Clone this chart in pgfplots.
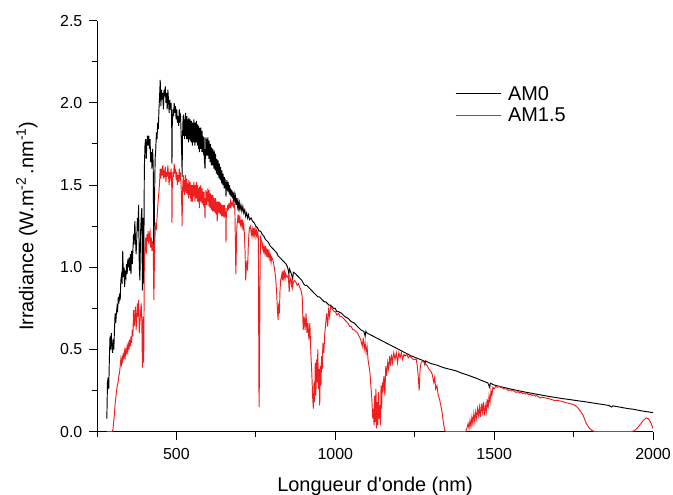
\documentclass[border=0pt]{standalone}
\usepackage{fontspec}
\setmainfont{Liberation Sans}
\usepackage{pgfplots}
\pgfplotsset{compat=1.18}
\definecolor{amred}{RGB}{240,30,30}
\newcommand{\lblfont}{\fontsize{20}{24}\selectfont}
\newcommand{\tckfont}{\fontsize{16}{19}\selectfont}

\begin{document}
\begin{tikzpicture}
\begin{axis}[
    scale only axis,
    width=556bp,
    height=411bp,
    xmin=250, xmax=2000,
    ymin=0, ymax=2.5,
    axis lines=left,
    axis line style={-, line width=1pt},
    tick align=outside,
    major tick length=8bp,
    minor tick length=5bp,
    tick style={line width=1pt, black},
    xtick={500,1000,1500,2000},
    xticklabels={500,1000,1500,2000},
    minor xtick={250,750,1250,1750},
    ytick={0,0.5,1,1.5,2,2.5},
    yticklabels={0.0,0.5,1.0,1.5,2.0,2.5},
    minor ytick={0.25,0.75,1.25,1.75,2.25},
    xticklabel style={font=\tckfont, inner sep=0pt, yshift=-8.3bp},
    yticklabel style={font=\tckfont, inner sep=0pt, xshift=-6.5bp},
    xlabel={Longueur d\textquotesingle onde (nm)},
    ylabel={Irradiance (W.m\textsuperscript{-2}\,.nm\textsuperscript{-1})},
    every axis x label/.style={at={(axis description cs:0.5,0)}, yshift=-59.3bp, anchor=base, font=\lblfont, inner sep=0pt},
    every axis y label/.style={at={(axis description cs:-0.1146,0.5)}, rotate=90, anchor=base, font=\lblfont, inner sep=0pt},
    legend style={draw=none, fill=none, font=\lblfont, at={(rel axis cs:0.644,0.846)}, anchor=north west, inner sep=0pt, row sep=2bp, column sep=5bp},
    legend cell align=left,
    legend image code/.code={\draw[#1, line width=0.8pt] (0bp,0bp) -- (45bp,0bp);},
]

\addplot[black, line width=0.95pt] coordinates {
(281,0.08)(283,0.30)(285,0.33)(287,0.26)(289,0.45)(291,0.58)(293,0.50)(295,0.60)(297,0.52)(299,0.48)
(301,0.56)(303,0.50)(305,0.62)(307,0.72)(309,0.66)(311,0.72)(313,0.76)(315,0.74)(317,0.82)(319,0.78)
(321,0.84)(323,0.80)(325,0.92)(327,0.95)(329,0.90)(331,1.10)(333,0.94)(335,1.00)(337,0.88)(339,0.96)
(341,0.94)(343,1.02)(345,0.96)(347,1.05)(349,1.00)(351,1.06)(353,0.98)(355,1.08)(357,0.96)(359,1.10)
(361,1.02)(363,1.10)(365,1.20)(367,1.14)(369,1.28)(371,1.18)(373,1.08)(375,1.16)(377,1.30)(379,1.22)
(381,1.38)(383,1.02)(385,0.92)(387,1.20)(389,1.30)(391,1.36)(393,0.86)(395,1.30)(397,0.90)(399,1.60)
(401,1.74)(403,1.78)(405,1.66)(407,1.76)(409,1.80)(411,1.74)(413,1.80)(415,1.72)(417,1.78)(419,1.64)
(421,1.70)(423,1.60)(425,1.72)(427,1.62)(429,1.00)(431,1.40)(433,1.66)(435,1.72)(437,1.82)(439,1.78)
(441,1.88)(443,1.84)(445,1.96)(447,2.04)(449,2.14)(451,1.98)(453,2.08)(455,2.02)(457,2.06)(459,1.96)
(461,2.08)(463,2.04)(465,2.10)(467,2.00)(469,2.06)(471,1.96)(473,2.08)(475,2.02)(477,1.94)(479,2.02)
(481,1.96)(483,2.00)(485,1.90)(486,1.63)(487,1.88)(489,1.96)(491,1.92)(493,2.00)(495,1.94)(497,1.98)
(499,1.90)(501,1.96)(503,1.88)(505,1.92)(507,1.86)(509,1.96)(511,1.90)(513,1.92)(515,1.80)(517,1.66)
(518,1.55)(519,1.80)
(520,1.84)(521,1.92)(522,1.80)(523,1.93)(524,1.82)(525,1.88)(526,1.78)(527,1.90)(528,1.82)(529,1.94)
(530,1.80)(531,1.90)(532,1.78)(533,1.92)(534,1.82)(535,1.90)(536,1.78)(537,1.88)(538,1.76)(539,1.91)
(540,1.80)(541,1.89)(542,1.78)(543,1.90)(544,1.77)(545,1.88)(546,1.76)(547,1.89)(548,1.78)(549,1.86)
(550,1.74)(551,1.88)(552,1.78)(553,1.87)(554,1.76)(555,1.90)(556,1.78)(557,1.86)(558,1.74)(559,1.88)
(560,1.78)(561,1.86)(562,1.76)(563,1.89)(564,1.77)(565,1.85)(566,1.74)(567,1.87)(568,1.76)(569,1.86)
(570,1.72)(571,1.84)(572,1.70)(573,1.85)(574,1.74)(575,1.83)(576,1.72)(577,1.85)(578,1.72)(579,1.82)
(580,1.70)(581,1.83)(582,1.72)(583,1.80)(584,1.70)(585,1.78)(586,1.68)(587,1.79)(588,1.66)(589,1.63)
(590,1.60)(591,1.72)(592,1.66)(593,1.79)(594,1.70)(595,1.78)(596,1.68)(597,1.77)(598,1.68)(599,1.79)
(600,1.70)(601,1.76)(602,1.66)(603,1.77)(604,1.68)(605,1.74)(606,1.64)(607,1.75)(608,1.66)(609,1.72)
(610,1.62)(611,1.73)(612,1.64)(613,1.71)(614,1.62)(615,1.72)(616,1.63)(617,1.70)(618,1.60)(619,1.71)
(620,1.62)(621,1.68)(622,1.59)(623,1.69)(624,1.60)(625,1.65)(626,1.57)(627,1.66)(628,1.57)(629,1.64)
(630,1.56)(631,1.65)(632,1.56)(633,1.62)(634,1.54)(635,1.63)(636,1.55)(637,1.60)(638,1.53)(639,1.61)
(640,1.53)(641,1.58)(642,1.51)(643,1.59)(644,1.51)(645,1.57)(646,1.50)(647,1.57)(648,1.50)(649,1.55)
(650,1.48)(651,1.55)(652,1.49)(653,1.54)(654,1.48)(655,1.52)(656,1.43)(657,1.51)(658,1.47)(659,1.53)
(660,1.47)(661,1.52)(662,1.46)(663,1.52)(664,1.46)(665,1.50)(666,1.45)(667,1.50)(668,1.44)(670,1.48)
(672,1.43)(674,1.47)(676,1.42)(678,1.46)(680,1.41)(682,1.44)(684,1.40)(686,1.43)(688,1.38)(690,1.42)
(692,1.37)(694,1.40)(696,1.36)(698,1.39)(700,1.35)(703,1.38)(706,1.34)(709,1.37)(712,1.33)(715,1.35)
(718,1.31)(721,1.33)(724,1.30)(727,1.32)(730,1.29)(735,1.30)(740,1.28)(745,1.27)(750,1.25)(755,1.24)
(760,1.22)(765,1.22)(770,1.20)(775,1.19)(780,1.17)(785,1.16)(790,1.15)(795,1.13)(800,1.12)(805,1.11)
(810,1.10)(815,1.09)(820,1.07)(825,1.06)(830,1.05)(835,1.04)(840,1.03)(845,1.02)(850,1.00)(854,0.96)
(856,0.99)(860,0.97)(866,0.93)(868,0.97)(875,0.96)(880,0.95)(885,0.94)(890,0.93)(895,0.92)(900,0.90)
(905,0.89)(910,0.89)(915,0.88)(920,0.87)(925,0.86)(930,0.85)(935,0.84)(940,0.83)(945,0.82)(950,0.82)
(955,0.81)(960,0.80)(965,0.79)(970,0.79)(975,0.78)(980,0.77)(985,0.77)(990,0.76)(995,0.75)(1000,0.75)
(1005,0.73)(1010,0.73)(1020,0.72)(1030,0.70)(1040,0.69)(1050,0.67)(1060,0.66)(1070,0.64)(1080,0.62)(1090,0.61)
(1094,0.58)(1096,0.61)(1100,0.60)(1110,0.59)(1120,0.58)(1130,0.57)(1140,0.56)(1150,0.55)(1160,0.54)(1170,0.53)
(1180,0.52)(1190,0.51)(1200,0.50)(1220,0.48)(1240,0.46)(1260,0.445)(1280,0.43)(1282,0.41)(1284,0.43)(1300,0.415)
(1320,0.405)(1340,0.39)(1360,0.38)(1380,0.37)(1400,0.355)(1420,0.342)(1440,0.328)(1460,0.312)(1480,0.297)(1486,0.27)
(1488,0.295)(1500,0.284)(1520,0.274)(1540,0.265)(1560,0.256)(1580,0.248)(1600,0.240)(1620,0.233)(1640,0.226)(1660,0.219)
(1680,0.212)(1700,0.206)(1720,0.200)(1740,0.195)(1760,0.189)(1780,0.184)(1800,0.178)(1820,0.172)(1840,0.166)(1860,0.160)
(1870,0.150)(1874,0.157)(1900,0.148)(1920,0.141)(1940,0.136)(1960,0.128)(1980,0.122)(2000,0.116)
};
\addlegendentry{AM0}

\addplot[amred, line width=0.95pt] coordinates {
(281,0)(297,0)(300,0.01)(303,0.07)(305,0.11)(307,0.17)(309,0.20)(311,0.24)(313,0.27)(315,0.29)
(317,0.31)(319,0.34)(321,0.36)(323,0.40)(325,0.44)(327,0.41)(329,0.45)(331,0.43)(333,0.48)(335,0.44)
(337,0.49)(339,0.46)(341,0.51)(343,0.47)(345,0.52)(347,0.49)(349,0.53)(351,0.50)(353,0.56)(355,0.52)
(357,0.58)(359,0.54)(361,0.62)(363,0.58)(365,0.74)(367,0.64)(369,0.70)(371,0.76)(373,0.62)(375,0.68)
(377,0.78)(379,0.70)(381,0.80)(383,0.60)(385,0.66)(387,0.72)(389,0.78)(391,0.68)(393,0.39)(395,0.70)
(397,0.42)(399,1.04)(401,1.12)(403,1.18)(405,1.08)(407,1.20)(409,1.16)(411,1.22)(413,1.14)(415,1.20)
(417,1.22)(419,1.12)(421,1.18)(423,1.10)(425,1.16)(427,1.10)(429,0.80)(431,1.08)(433,1.22)(435,1.26)
(437,1.24)(439,1.30)(441,1.36)(443,1.42)(445,1.46)(447,1.52)(449,1.60)(451,1.54)(453,1.60)(455,1.56)
(457,1.62)(459,1.54)(461,1.58)(463,1.56)(465,1.61)(467,1.52)(469,1.58)(471,1.55)(473,1.62)(475,1.56)
(477,1.50)(479,1.58)(481,1.55)(483,1.60)(485,1.54)(486,1.27)(487,1.50)(489,1.58)(491,1.55)(493,1.63)
(495,1.57)(497,1.60)(499,1.53)(501,1.58)(503,1.50)(505,1.56)(507,1.52)(509,1.60)(511,1.54)(513,1.56)
(515,1.48)(517,1.36)(518,1.25)(519,1.44)
(520,1.50)(521,1.54)(522,1.46)(523,1.56)(524,1.48)(525,1.52)(526,1.44)(527,1.53)(528,1.46)(529,1.56)
(530,1.47)(531,1.52)(532,1.45)(533,1.54)(534,1.46)(535,1.51)(536,1.44)(537,1.49)(538,1.42)(539,1.53)
(540,1.45)(541,1.50)(542,1.44)(543,1.52)(544,1.42)(545,1.48)(546,1.40)(547,1.50)(548,1.43)(549,1.47)
(550,1.40)(551,1.50)(552,1.44)(553,1.49)(554,1.43)(555,1.52)(556,1.44)(557,1.48)(558,1.40)(559,1.50)
(560,1.43)(561,1.48)(562,1.42)(563,1.52)(564,1.44)(565,1.47)(566,1.40)(567,1.50)(568,1.43)(569,1.48)
(570,1.40)(571,1.46)(572,1.36)(573,1.49)(574,1.42)(575,1.47)(576,1.40)(577,1.50)(578,1.41)(579,1.46)
(580,1.39)(581,1.48)(582,1.41)(583,1.46)(584,1.38)(585,1.44)(586,1.37)(587,1.46)(588,1.36)(589,1.38)
(590,1.30)(591,1.42)(592,1.38)(593,1.47)(594,1.39)(595,1.45)(596,1.38)(597,1.46)(598,1.40)(599,1.48)
(600,1.40)(601,1.45)(602,1.37)(603,1.47)(604,1.39)(605,1.43)(606,1.36)(607,1.45)(608,1.38)(609,1.42)
(610,1.35)(611,1.44)(612,1.37)(613,1.41)(614,1.34)(615,1.44)(616,1.37)(617,1.41)(618,1.34)(619,1.42)
(620,1.35)(621,1.39)(622,1.33)(623,1.42)(624,1.35)(625,1.39)(626,1.32)(627,1.40)(628,1.28)(629,1.30)
(630,1.34)(631,1.40)(632,1.34)(633,1.38)(634,1.33)(635,1.40)(636,1.34)(637,1.37)(638,1.32)(639,1.39)
(640,1.33)(641,1.36)(642,1.31)(643,1.38)(644,1.33)(645,1.36)(646,1.31)(647,1.38)(648,1.33)(649,1.35)
(650,1.30)(651,1.38)(652,1.33)(653,1.36)(654,1.31)(655,1.34)(656,1.15)(657,1.32)(658,1.33)(659,1.36)
(660,1.34)(661,1.38)(662,1.35)(663,1.37)(664,1.35)(665,1.39)(666,1.36)(667,1.38)(668,1.36)(670,1.40)
(672,1.37)(674,1.39)(676,1.38)(678,1.40)(680,1.37)(682,1.38)(684,1.35)(686,1.10)(687,0.96)(688,1.05)
(690,1.24)(692,1.28)(693,1.30)(695,1.27)(696,1.32)(698,1.28)(700,1.30)(702,1.26)(704,1.28)(706,1.25)
(708,1.29)(710,1.24)(712,1.26)(714,1.20)(716,1.10)(718,0.92)(720,1.00)(722,1.04)(724,0.98)(726,1.12)
(728,1.20)(730,1.24)(733,1.25)(735,1.21)(736,1.22)(738,1.19)(740,1.23)(742,1.20)(744,1.24)(746,1.20)
(748,1.23)(750,1.19)(752,1.22)(754,1.19)(756,1.21)(758,1.18)(759,0.60)(760,0.15)(761,0.30)(762,0.55)
(763,0.90)(764,1.10)(765,1.18)(768,1.16)(770,1.12)(772,1.14)(774,1.10)(776,1.12)(778,1.09)(780,1.13)
(782,1.08)(784,1.10)(786,1.06)(788,1.11)(790,1.07)(792,1.09)(794,1.05)(796,1.07)(798,1.03)(800,1.06)
(804,1.04)(808,1.00)(812,0.94)(815,0.86)(818,0.74)(820,0.68)(822,0.78)(824,0.72)(826,0.86)(828,0.92)
(832,0.96)(834,0.92)(836,0.98)(838,0.94)(840,0.97)(842,0.93)(844,0.96)(848,0.94)(852,0.95)(855,0.85)
(857,0.94)(860,0.92)(862,0.89)(864,0.93)(866,0.88)(868,0.91)(872,0.92)(876,0.91)(880,0.89)(884,0.90)
(888,0.88)(892,0.86)(896,0.82)(899,0.62)(902,0.70)(905,0.62)(908,0.72)(911,0.60)(914,0.66)(917,0.56)
(920,0.66)(923,0.48)(926,0.36)(929,0.20)(931,0.14)(933,0.30)(935,0.18)(937,0.42)(939,0.22)(941,0.44)
(943,0.30)(945,0.50)(947,0.26)(949,0.38)(951,0.16)(953,0.40)(955,0.28)(957,0.46)(959,0.38)(961,0.54)
(964,0.48)(967,0.60)(970,0.66)(973,0.72)(976,0.64)(979,0.74)(982,0.70)(985,0.76)(989,0.75)(993,0.74)
(997,0.73)(1000,0.73)(1005,0.71)(1010,0.72)(1015,0.70)(1020,0.70)(1025,0.69)(1030,0.68)(1035,0.67)(1040,0.66)
(1045,0.64)(1050,0.64)(1055,0.62)(1060,0.62)(1065,0.61)(1070,0.60)(1075,0.58)(1080,0.56)(1085,0.52)(1088,0.57)
(1091,0.50)(1094,0.54)(1097,0.48)(1100,0.52)(1103,0.44)(1106,0.40)(1109,0.36)(1112,0.28)(1115,0.20)(1118,0.08)
(1120,0.14)(1122,0.04)(1124,0.22)(1126,0.06)(1128,0.26)(1130,0.02)(1132,0.18)(1134,0.04)(1136,0.24)(1138,0.08)
(1140,0.16)(1142,0.04)(1144,0.28)(1146,0.14)(1148,0.30)(1150,0.24)(1153,0.34)(1156,0.22)(1159,0.40)(1162,0.34)
(1165,0.42)(1168,0.38)(1171,0.46)(1174,0.40)(1177,0.47)(1180,0.42)(1184,0.48)(1188,0.44)(1192,0.48)(1196,0.42)
(1200,0.48)(1204,0.45)(1208,0.48)(1212,0.44)(1216,0.47)(1220,0.46)(1225,0.47)(1230,0.45)(1235,0.46)(1240,0.45)
(1245,0.44)(1250,0.44)(1255,0.44)(1258,0.40)(1261,0.34)(1264,0.25)(1267,0.38)(1270,0.42)(1275,0.43)(1280,0.42)
(1285,0.41)(1290,0.40)(1295,0.38)(1300,0.37)(1305,0.35)(1310,0.30)(1313,0.33)(1316,0.26)(1320,0.28)(1324,0.22)
(1328,0.20)(1332,0.16)(1336,0.12)(1340,0.06)(1344,0.01)(1348,0)(1410,0)(1414,0.02)(1418,0.05)(1421,0.02)
(1424,0.07)(1427,0.03)(1430,0.09)(1433,0.05)(1436,0.11)(1439,0.06)(1442,0.12)(1445,0.08)(1448,0.14)(1451,0.10)
(1454,0.15)(1457,0.09)(1460,0.17)(1463,0.12)(1466,0.18)(1469,0.10)(1472,0.16)(1475,0.12)(1478,0.20)(1481,0.14)
(1484,0.22)(1487,0.18)(1490,0.25)(1493,0.22)(1496,0.27)(1500,0.26)(1505,0.275)(1510,0.27)(1515,0.275)(1520,0.27)
(1525,0.268)(1530,0.26)(1535,0.262)(1540,0.258)(1545,0.25)(1550,0.255)(1555,0.248)(1560,0.25)(1565,0.244)(1570,0.238)
(1575,0.245)(1580,0.236)(1585,0.24)(1590,0.232)(1595,0.236)(1600,0.228)(1605,0.232)(1610,0.224)(1615,0.228)(1620,0.22)
(1625,0.224)(1630,0.216)(1635,0.22)(1640,0.212)(1645,0.205)(1650,0.21)(1660,0.206)(1670,0.202)(1680,0.196)(1690,0.19)
(1700,0.19)(1710,0.186)(1720,0.18)(1730,0.175)(1740,0.17)(1750,0.165)(1760,0.152)(1770,0.13)(1780,0.10)(1790,0.05)
(1800,0.02)(1810,0.005)(1820,0)(1930,0)(1940,0.005)(1950,0.02)(1960,0.045)(1970,0.07)(1978,0.083)(1985,0.08)
(1992,0.06)(2000,0.02)
};
\addlegendentry{AM1.5}

\end{axis}
\pgfresetboundingbox
\path[use as bounding box] ([xshift=-97bp,yshift=-63.3bp]current axis.south west) rectangle ([xshift=20bp,yshift=20.7bp]current axis.north east);
\end{tikzpicture}
\end{document}
